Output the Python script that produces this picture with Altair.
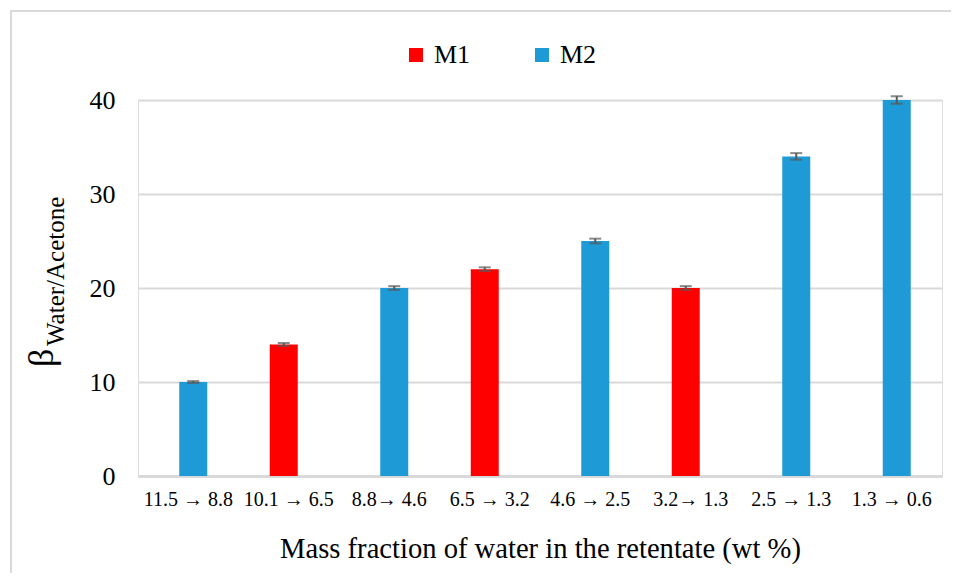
import altair as alt
import pandas as pd

categories = ["11.5 → 8.8", "10.1 → 6.5", "8.8→ 4.6", "6.5 → 3.2",
              "4.6 → 2.5", "3.2→ 1.3", "2.5 → 1.3", "1.3 → 0.6"]
series = ["M2", "M1", "M2", "M1", "M2", "M1", "M2", "M2"]
values = [10, 14, 20, 22, 25, 20, 34, 40]
errors = [0.1, 0.15, 0.2, 0.2, 0.25, 0.2, 0.35, 0.4]

df = pd.DataFrame({"cat": categories, "series": series, "value": values, "err": errors})
df["lo"] = df["value"] - df["err"]
df["hi"] = df["value"] + df["err"]

FONT = "Times New Roman, Liberation Serif, serif"
W, H = 804, 376

xenc = alt.X("cat:N", sort=categories,
             scale=alt.Scale(paddingInner=0, paddingOuter=0),
             axis=alt.Axis(title="Mass fraction of water in the retentate (wt %)",
                           labelAngle=0, labelFont=FONT, labelFontSize=20, labelColor="#000000",
                           labelPadding=13, ticks=False, domainColor="#d9d9d9", domainWidth=3,
                           titleFont=FONT, titleFontSize=28.6, titleFontWeight="normal",
                           titleColor="#000000", titlePadding=25, grid=False))
xoff = alt.XOffset("series:N", scale=alt.Scale(domain=["M1", "M2"], paddingInner=0,
                                               paddingOuter=0, range=[40.25, 60.25]))
yscale = alt.Scale(domain=[0, 40], nice=False)

bars = alt.Chart(df).mark_bar(width=28).encode(
    x=xenc,
    xOffset=xoff,
    y=alt.Y("value:Q", scale=yscale,
            axis=alt.Axis(title=None, values=[0, 10, 20, 30, 40], labelFont=FONT,
                          labelFontSize=26, labelColor="#000000", labelPadding=23,
                          ticks=False, domain=False, gridColor="#d9d9d9", gridWidth=2)),
    color=alt.Color("series:N",
                    scale=alt.Scale(domain=["M1", "M2"], range=["#ff0000", "#1e9bd7"]),
                    legend=alt.Legend(title=None, orient="none", legendX=265, legendY=-58,
                                      direction="horizontal", symbolType="square",
                                      symbolSize=196, symbolStrokeWidth=0,
                                      labelFont=FONT, labelFontSize=26, labelColor="#000000",
                                      labelOffset=5, columnPadding=58)),
)

rules = alt.Chart(df).mark_rule(color="#595959", strokeWidth=2).encode(
    x=alt.X("cat:N", sort=categories), xOffset=xoff,
    y=alt.Y("lo:Q", scale=yscale), y2="hi:Q")

cap_lo = alt.Chart(df).mark_tick(color="#595959", thickness=2, size=12).encode(
    x=alt.X("cat:N", sort=categories), xOffset=xoff, y=alt.Y("lo:Q", scale=yscale))
cap_hi = alt.Chart(df).mark_tick(color="#595959", thickness=2, size=12).encode(
    x=alt.X("cat:N", sort=categories), xOffset=xoff, y=alt.Y("hi:Q", scale=yscale))

one = pd.DataFrame({"a": [0]})
beta = alt.Chart(one).mark_text(text="β", font=FONT, fontSize=36, angle=270,
                                align="left", baseline="alphabetic", color="#000000").encode(
    x=alt.value(-85), y=alt.value(267))
sub = alt.Chart(one).mark_text(text="Water/Acetone", font=FONT, fontSize=25, angle=270,
                               align="left", baseline="alphabetic", color="#000000").encode(
    x=alt.value(-74), y=alt.value(246))
border = alt.Chart(one).mark_rect(fill=None, stroke="#d9d9d9", strokeWidth=2).encode(
    x=alt.value(-127), x2=alt.value(840), y=alt.value(-89), y2=alt.value(500))

chart = alt.layer(border, bars, rules, cap_lo, cap_hi, beta, sub).properties(
    width=W, height=H,
    autosize=alt.AutoSizeParams(type="none"),
    padding={"left": 130, "top": 92, "right": 9, "bottom": 97},
).configure_view(stroke=None).configure(background="white")

chart.save("out.html", embed_options={"renderer": "svg", "actions": False})
